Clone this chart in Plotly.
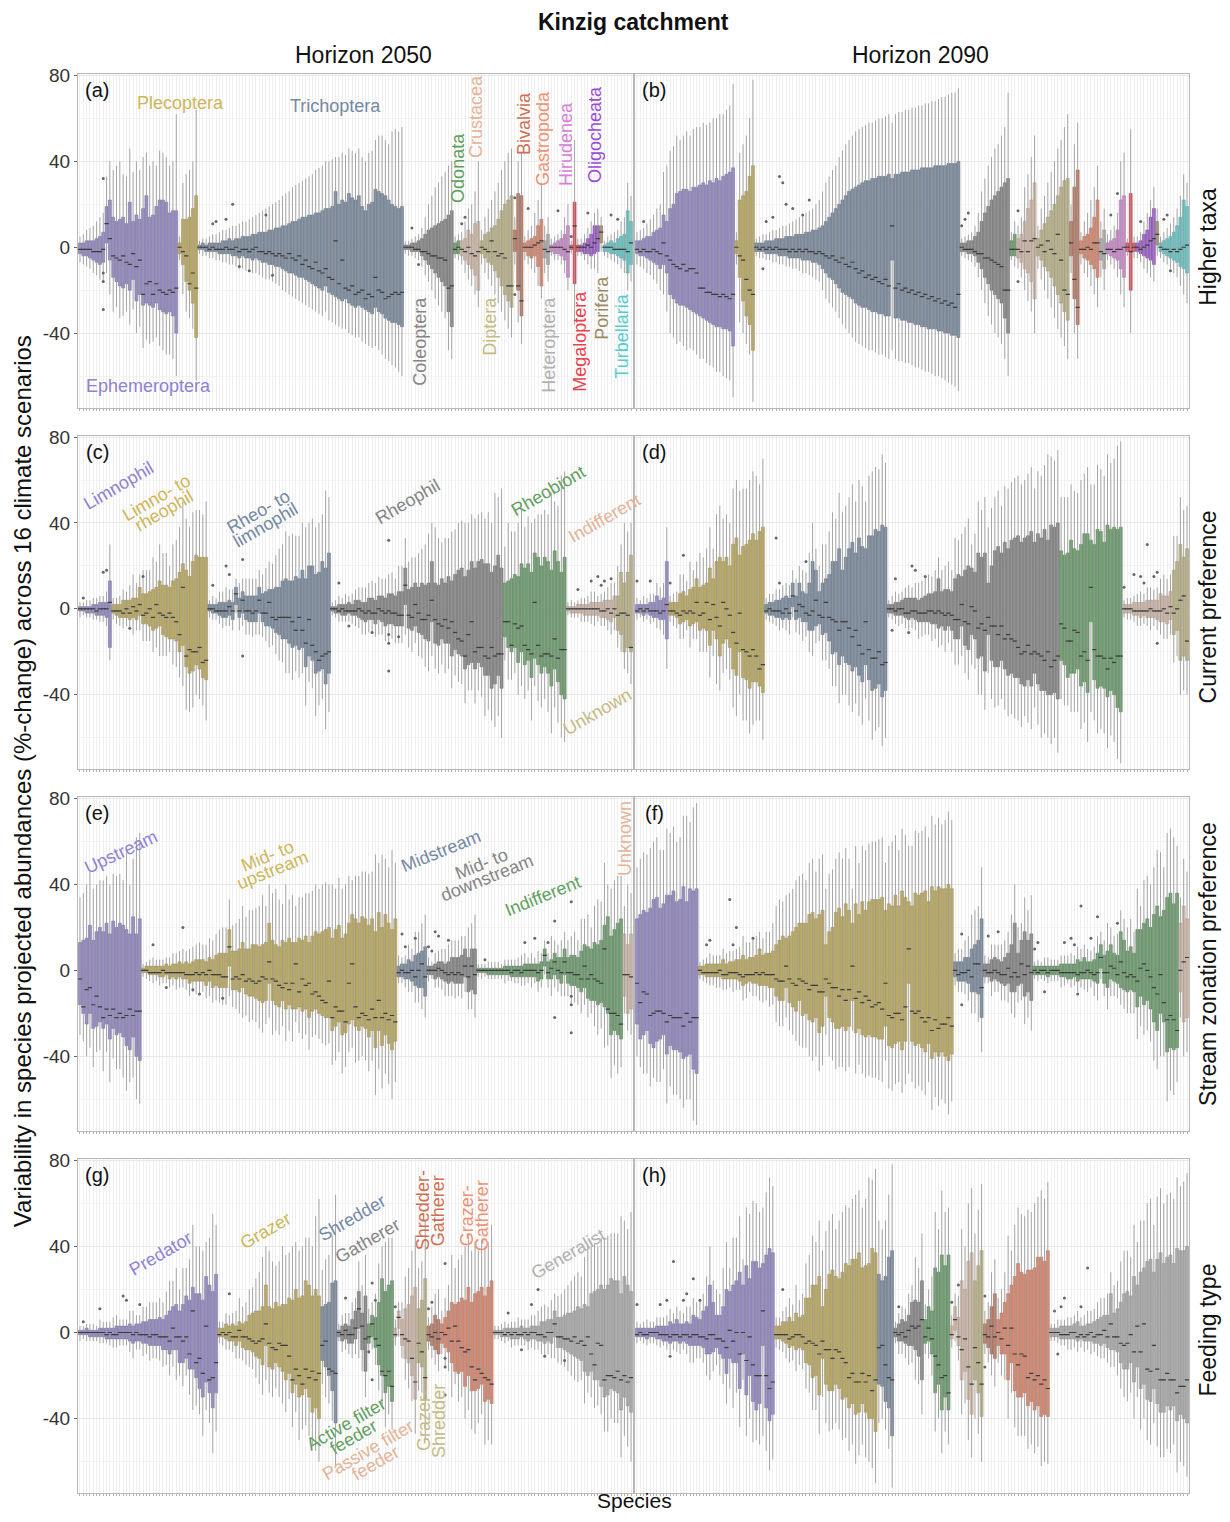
import math
import plotly.graph_objects as go

# reference canvas 1230x1522; the page body adds an 8 px margin, so the figure is 16 px smaller
REF_W, REF_H = 1230, 1522
OFF = 8
FW, FH = REF_W - 2 * OFF, REF_H - 2 * OFF

# ---------------- categories ----------------
TAXA = ["Ephemeroptera", "Plecoptera", "Trichoptera", "Coleoptera", "Odonata", "Crustacea",
        "Diptera", "Bivalvia", "Gastropoda", "Heteroptera", "Hirudenea", "Megaloptera",
        "Oligocheata", "Porifera", "Turbellaria"]
CURRENT_PREF = ["Limnophil", "Limno- to rheophil", "Rheo- to limnophil", "Rheophil",
                "Rheobiont", "Indifferent", "Unknown"]
ZONATION_PREF = ["Upstream", "Mid- to upstream", "Midstream", "Mid- to downstream",
                 "Indifferent", "Unknown"]
FEEDING_TYPE = ["Predator", "Grazer", "Shredder", "Gatherer", "Active filter feeder",
                "Passive filter feeder", "Grazer-Shredder", "Shredder-Gatherer",
                "Grazer-Gatherer", "Generalist"]

# ---------------- species data ----------------
# each species: (lower whisker, Q1, median, Q3, upper whisker) of %-change across 16 scenarios
# traits: 3 letters = current preference, stream zonation, feeding type (a = first category ...)
EPHEMEROPTERA_2050 = [(-7,-3,-1,2,5),(-8,-4,-1,2,6),(-9,-4,-1,3,8),(-10,-5,-1,3,9),(-12,-6,-2,3,10),
    (-13,-7,-2,4,12),(-15,-8,-2,5,14),(-16,-7,-1,7,16),(-12,2,11,19,33),(-22,-6,4,22,40),
    (-30,-14,-4,14,36),(-28,-16,-5,12,38),(-33,-18,-6,13,40),(-32,-19,-4,14,34),(-30,-17,-7,11,33),
    (-36,-20,-8,21,46),(-29,-15,-3,12,35),(-40,-25,-9,15,40),(-37,-22,-6,13,36),(-47,-27,-22,18,42),
    (-43,-26,-17,24,44),(-45,-27,-16,14,38),(-44,-28,-22,15,40),(-42,-26,-17,19,38),(-46,-29,-20,22,45),
    (-48,-30,-21,22,44),(-50,-31,-22,21,42),(-50,-30,-20,16,38),(-52,-32,-21,17,40),(-60,-40,-19,17,62)]
EPHEMEROPTERA_2090 = [(-8,-3,-1,3,7),(-9,-4,-2,3,8),(-10,-4,-1,4,9),(-12,-5,-2,5,11),(-13,-6,-2,5,13),
    (-15,-7,-1,7,15),(-17,-8,-2,8,18),(-20,-10,-3,9,20),(-22,-8,2,15,35),(-30,-12,-4,12,38),
    (-40,-22,-6,18,45),(-42,-24,-8,20,47),(-45,-26,-9,25,52),(-44,-27,-10,26,50),(-46,-27,-8,27,52),
    (-48,-28,-11,27,54),(-47,-29,-10,26,52),(-48,-30,-10,28,55),(-50,-31,-12,28,56),(-52,-32,-19,29,56),
    (-52,-33,-19,30,58),(-54,-34,-21,29,57),(-55,-35,-21,31,58),(-56,-36,-22,30,60),(-58,-37,-22,32,60),
    (-58,-37,-23,31,62),(-60,-38,-22,33,62),(-61,-38,-23,34,64),(-62,-39,-24,35,66),(-70,-46,-22,37,76)]
EPHEMEROPTERA_TRAITS = ["bbj","bbj","cbd","ced","dbb","dbb","dbb","dei","dbd","dbb",
    "cbi","dbb","ebb","cbi","dbb","eai","dbb","eai","dbb","bai",
    "ebb","cai","dbb","ebi","baj","eeb","dai","ceb","eai","eab"]

PLECOPTERA_2050 = [(-6,-3,0,2,5),(-22,-8,-2,13,30),(-30,-16,-4,13,34),(-33,-20,-17,14,36),
    (-38,-26,-12,18,40),(-62,-42,-19,24,64)]
PLECOPTERA_2090 = [(-8,-3,0,3,7),(-35,-14,-4,22,44),(-40,-25,-6,24,48),(-45,-32,-15,26,52),
    (-50,-36,-20,33,60),(-72,-48,-22,38,78)]
PLECOPTERA_TRAITS = ["dbj","bba","cac","eac","daa","eac"]

TRICHOPTERA_2050 = [(-3,-1,0,1,3),(-4,-1,0,2,4),(-4,-2,0,1,4),(-5,-2,-1,2,5),(-5,-2,0,2,6),
    (-6,-2,-1,2,6),(-6,-3,-1,2,7),(-7,-3,-1,3,8),(-7,-3,0,3,8),(-8,-3,-1,4,9),
    (-8,-4,-1,3,10),(-9,-4,0,4,10),(-10,-5,-2,4,11),(-10,-4,-1,5,12),(-11,-5,-1,5,12),
    (-11,-5,-2,5,13),(-12,-6,-1,6,14),(-12,-5,0,6,15),(-13,-6,-2,7,16),(-14,-7,-2,7,17),
    (-15,-7,-3,7,18),(-15,-8,-2,8,19),(-16,-8,-3,8,20),(-17,-9,-4,9,21),(-18,-9,-3,9,22),
    (-20,-10,-4,10,24),(-21,-11,-5,10,25),(-22,-12,-3,11,26),(-23,-12,-5,12,28),(-24,-13,-6,12,29),
    (-25,-14,-4,13,30),(-26,-14,-8,14,31),(-27,-15,-6,14,32),(-28,-16,-9,15,33),(-29,-17,-10,15,34),
    (-30,-18,-7,16,36),(-31,-19,-11,16,37),(-32,-20,-12,17,38),(-30,-18,-10,18,40),(-34,-21,-14,18,40),
    (-35,-22,-15,19,41),(-36,-23,3,26,42),(-37,-24,-17,20,42),(-38,-25,-6,22,44),(-38,-24,-19,21,43),
    (-40,-26,-20,25,46),(-41,-27,-18,23,45),(-42,-28,-22,22,44),(-42,-27,-21,24,46),(-44,-28,-20,19,42),
    (-45,-29,-24,17,40),(-46,-30,-22,20,44),(-47,-31,-23,21,45),(-46,-28,-14,27,50),(-48,-30,-20,26,52),
    (-50,-31,-21,25,52),(-52,-33,-24,24,50),(-53,-34,-23,22,48),(-55,-35,-22,20,54),(-56,-35,-21,19,55),
    (-58,-36,-22,18,54),(-60,-37,-21,19,56)]
TRICHOPTERA_2090 = [(-4,-2,0,2,4),(-5,-2,-1,2,5),(-5,-2,0,2,6),(-6,-3,-1,3,6),(-6,-3,0,3,7),
    (-7,-3,-1,3,8),(-7,-3,0,4,8),(-8,-4,-1,4,9),(-8,-4,-1,4,10),(-9,-4,-1,5,10),
    (-9,-5,-2,5,11),(-10,-5,-1,5,12),(-10,-5,-2,6,13),(-11,-5,-1,6,14),(-12,-6,-2,6,15),
    (-12,-6,-1,7,16),(-13,-6,-2,7,17),(-14,-7,-2,8,18),(-15,-7,-3,8,20),(-16,-8,-2,9,22),
    (-20,-10,-3,10,26),(-24,-12,-4,12,30),(-26,-14,-5,14,33),(-28,-15,-4,16,36),(-30,-17,-6,18,38),
    (-33,-19,-7,20,42),(-36,-21,-5,22,45),(-38,-22,-8,24,48),(-40,-23,-9,26,50),(-42,-24,-7,27,52),
    (-44,-26,-10,28,54),(-45,-27,-12,29,55),(-46,-28,-11,30,56),(-47,-28,-14,31,57),(-48,-29,-13,31,58),
    (-48,-30,-15,32,58),(-49,-30,-14,32,59),(-50,-31,-16,33,60),(-50,-31,-17,33,60),(-51,-32,-15,33,61),
    (-52,-32,-18,34,62),(-48,-6,10,32,58),(-52,-33,-19,34,62),(-53,-33,-17,34,63),(-53,-34,-20,35,63),
    (-54,-34,-19,35,64),(-54,-35,-21,35,64),(-55,-35,-20,36,65),(-56,-36,-22,36,65),(-56,-36,-21,36,66),
    (-57,-37,-23,37,66),(-58,-37,-22,37,67),(-58,-38,-24,37,67),(-59,-38,-23,37,68),(-60,-38,-25,38,68),
    (-60,-39,-24,38,69),(-61,-39,-26,38,70),(-62,-40,-25,38,70),(-63,-40,-27,39,71),(-64,-41,-26,39,72),
    (-65,-41,-28,39,72),(-67,-42,-22,40,74)]
TRICHOPTERA_TRAITS = ["dbj","cba","dej","bbj","cda","dbf","dcj","cba","fej","dbb",
    "cbj","dda","bbe","ccj","dba","dbj","cef","dbj","cda","dbj",
    "bce","cba","dbj","cbb","dbj","dba","cbb","bcf","dbj","ebc",
    "cba","dbb","bee","dbg","cba","ebi","dbb","bbf","cbj","dba",
    "dbj","eba","cab","dbj","ebi","bbj","dac","cba","ebj","dee",
    "cbb","eaj","dbf","eba","cbj","dag","bbi","ebj","dbb","caa",
    "ebj","dbj"]

COLEOPTERA_2050 = [(-3,-1,0,1,3),(-4,-1,0,1,3),(-4,-2,0,2,4),(-5,-2,-1,2,5),(-6,-2,-1,3,6),
    (-9,-4,-2,4,9),(-13,-6,-2,6,14),(-16,-8,-3,8,20),(-20,-10,-4,9,24),(-24,-12,-4,10,28),
    (-27,-14,-5,11,30),(-30,-16,-5,12,33),(-33,-18,-6,13,35),(-48,-30,-19,15,38),(-52,-37,-18,17,40)]
COLEOPTERA_2090 = [(-4,-2,0,2,4),(-5,-2,-1,2,5),(-6,-3,-1,3,6),(-7,-3,-1,3,7),(-9,-4,-2,5,10),
    (-14,-7,-3,7,16),(-20,-10,-3,12,26),(-26,-14,-5,16,32),(-32,-17,-5,19,38),(-36,-20,-6,22,42),
    (-40,-22,-7,24,46),(-42,-24,-8,26,48),(-45,-26,-9,28,52),(-52,-33,-20,30,56),(-60,-40,-20,32,72)]
COLEOPTERA_TRAITS = ["fej","aea","fdj","cbb","dbj","bbb","cda","dbb","bej","cbb",
    "dbg","deb","cbj","bba","dab"]

ODONATA_2050 = [(-5,-3,-1,2,5),(-6,-3,0,3,6)]
ODONATA_2090 = [(-6,-4,-1,3,7),(-9,-4,-1,6,12)]
ODONATA_TRAITS = ["aea","aea"]

CRUSTACEA_2050 = [(-8,-4,-1,3,7),(-12,-6,-2,4,12),(-15,-8,0,8,18),(-18,-10,-3,6,20),
    (-22,-13,-4,11,26),(-28,-20,-2,12,40)]
CRUSTACEA_2090 = [(-10,-5,-1,4,10),(-14,-7,-2,6,14),(-20,-10,3,12,28),(-25,-12,-2,18,34),
    (-30,-16,3,22,42),(-40,-24,4,30,52)]
CRUSTACEA_TRAITS = ["fch","fdh","bch","gdh","bej","gfj"]

DIPTERA_2050 = [(-8,-3,0,3,8),(-12,-5,-1,6,14),(-15,-7,-2,7,18),(-18,-8,3,9,22),(-22,-11,-2,10,26),
    (-26,-14,-4,13,30),(-30,-18,-3,17,36),(-34,-22,-5,20,40),(-38,-25,-18,22,44),(-42,-28,-18,24,46)]
DIPTERA_2090 = [(-10,-4,0,4,10),(-15,-6,1,8,18),(-20,-9,-2,11,24),(-24,-11,3,14,30),(-28,-14,-1,17,35),
    (-33,-18,-3,20,40),(-38,-22,6,24,46),(-42,-26,-6,28,50),(-46,-30,-20,31,56),(-52,-34,-22,32,62)]
DIPTERA_TRAITS = ["fej","cdd","bej","ccd","ddj","bef","gfd","cbj","dae","bbj"]

BIVALVIA_2050 = [(-8,-2,4,8,14),(-35,-20,-18,25,40),(-45,-32,-25,24,44)]
BIVALVIA_2090 = [(-12,-4,2,12,20),(-40,-24,-15,28,48),(-52,-36,-28,36,58)]
BIVALVIA_TRAITS = ["cee","gee","bee"]

GASTROPODA_2050 = [(-6,-2,0,2,5),(-8,-4,0,3,8),(-10,-5,0,4,10),(-12,-4,1,5,16),(-18,-9,2,10,22),
    (-24,-18,3,13,30)]
GASTROPODA_2090 = [(-8,-3,-1,3,7),(-12,-5,-1,5,12),(-14,-6,0,6,16),(-18,-8,-1,9,22),(-22,-10,2,14,28),
    (-28,-14,2,22,38)]
GASTROPODA_TRAITS = ["feb","adb","fci","beb","bdi","abi"]

HETEROPTERA_2050 = [(-12,-5,-1,3,10),(-16,-8,-2,6,14)]
HETEROPTERA_2090 = [(-14,-6,-2,4,12),(-20,-10,-3,8,18)]
HETEROPTERA_TRAITS = ["dda","dea"]

HIRUDENEA_2050 = [(-4,-2,0,1,4),(-6,-3,0,2,5),(-6,-3,0,3,6),(-8,-4,0,4,8),(-12,-6,-1,6,14),
    (-20,-14,-2,10,20)]
HIRUDENEA_2090 = [(-6,-3,-1,2,6),(-8,-4,-1,3,8),(-10,-5,-2,4,10),(-14,-6,-1,8,16),(-22,-10,-1,22,40),
    (-28,-14,0,24,44)]
HIRUDENEA_TRAITS = ["aea","fea","aca","bea","cda","bea"]

MEGALOPTERA_2050 = [(-3,-1,0,1,3),(-36,-17,10,21,50),(-4,-2,0,1,4)]
MEGALOPTERA_2090 = [(-4,-2,0,2,4),(-40,-20,-2,25,55),(-5,-2,0,2,5)]
MEGALOPTERA_TRAITS = ["aea","bea","fea"]

OLIGOCHEATA_2050 = [(-4,-2,0,1,4),(-6,-3,0,2,6),(-8,-3,1,4,9),(-10,-4,0,6,12),(-10,-3,2,10,16),
    (-12,-2,4,10,18)]
OLIGOCHEATA_2090 = [(-5,-2,0,2,5),(-7,-3,-1,3,7),(-10,-4,0,6,12),(-12,-5,1,8,16),(-14,-6,3,14,22),
    (-16,-8,4,18,28)]
OLIGOCHEATA_TRAITS = ["aed","fej","cdd","fej","bdd","cej"]

PORIFERA_2050 = [(-2,2,7,10,14)]
PORIFERA_2090 = [(-4,1,6,12,18)]
PORIFERA_TRAITS = ["cef"]

TURBELLARIA_2050 = [(-4,-2,0,1,3),(-5,-2,0,2,5),(-6,-3,0,3,6),(-7,-3,-1,2,7),(-8,-4,-1,4,8),
    (-10,-5,-1,5,12),(-12,-6,-1,6,14),(-20,-12,-2,17,30),(-16,-8,2,12,24)]
TURBELLARIA_2090 = [(-5,-2,0,2,5),(-7,-3,-1,3,7),(-8,-4,-1,4,9),(-10,-5,-2,5,11),(-12,-6,-1,7,14),
    (-14,-7,-2,10,18),(-18,-9,-1,14,24),(-22,-10,0,22,34),(-26,-12,1,19,30)]
TURBELLARIA_TRAITS = ["fea","aea","fea","dea","fea","bba","dea","gfa","dea"]

# outlying scenario values: (taxon index, species index within taxon, value)
OUTLIERS_2050 = [(0,7,32),(0,7,-12),(0,7,-16),(0,7,-29),(2,4,11),(2,5,12),(2,8,13),(2,12,-9),
    (2,15,-11),(2,20,15),(2,22,-13),(2,10,20),(3,2,9),(3,4,-8),(5,0,11),(5,1,14),(7,0,23),
    (7,0,-22),(8,1,18),(10,2,17),(11,0,5),(12,2,16),(14,2,15),(14,4,13)]
OUTLIERS_2090 = [(0,2,12),(2,3,12),(2,5,14),(2,7,33),(2,8,30),(2,9,20),(2,11,18),(2,14,15),
    (2,16,22),(2,2,-10),(3,0,10),(3,1,13),(3,2,16),(5,0,17),(5,0,-16),(10,1,15),(10,3,25),
    (12,1,12),(14,1,13),(14,2,15),(14,3,-11)]

TAXON_TABLES = [
    (EPHEMEROPTERA_2050, EPHEMEROPTERA_2090, EPHEMEROPTERA_TRAITS),
    (PLECOPTERA_2050, PLECOPTERA_2090, PLECOPTERA_TRAITS),
    (TRICHOPTERA_2050, TRICHOPTERA_2090, TRICHOPTERA_TRAITS),
    (COLEOPTERA_2050, COLEOPTERA_2090, COLEOPTERA_TRAITS),
    (ODONATA_2050, ODONATA_2090, ODONATA_TRAITS),
    (CRUSTACEA_2050, CRUSTACEA_2090, CRUSTACEA_TRAITS),
    (DIPTERA_2050, DIPTERA_2090, DIPTERA_TRAITS),
    (BIVALVIA_2050, BIVALVIA_2090, BIVALVIA_TRAITS),
    (GASTROPODA_2050, GASTROPODA_2090, GASTROPODA_TRAITS),
    (HETEROPTERA_2050, HETEROPTERA_2090, HETEROPTERA_TRAITS),
    (HIRUDENEA_2050, HIRUDENEA_2090, HIRUDENEA_TRAITS),
    (MEGALOPTERA_2050, MEGALOPTERA_2090, MEGALOPTERA_TRAITS),
    (OLIGOCHEATA_2050, OLIGOCHEATA_2090, OLIGOCHEATA_TRAITS),
    (PORIFERA_2050, PORIFERA_2090, PORIFERA_TRAITS),
    (TURBELLARIA_2050, TURBELLARIA_2090, TURBELLARIA_TRAITS),
]

# ---------------- styles ----------------
PALETTE = ["#9b8fd2", "#cbb763", "#8092a8", "#8c8c8c", "#6ea66f", "#e2c8b6", "#cbc291",
           "#c5806a", "#ec8e72", "#b9b9b9", "#dd92dd", "#e9535f", "#a55bd8", "#aa9c74", "#6dd5d5"]
TEXT_COLORS = ["#8f82d2", "#cdb65a", "#7488a3", "#858585", "#5fa060", "#e3b497", "#c4bb85",
               "#cf6f52", "#ee9275", "#b0b0b0", "#d880d8", "#e8404e", "#9a4bd6", "#9a8b63", "#55cccc"]
FONT = "Liberation Sans, Arial, sans-serif"


def darker(hexcol, f=0.78):
    h = hexcol.lstrip("#")
    r, g, b = (int(h[i:i + 2], 16) for i in (0, 2, 4))
    return "rgb(%d,%d,%d)" % (r * f, g * f, b * f)


def fx(px):
    return (px - OFF) / FW


def fy(py):
    # page-position correction (renderer places the top a few px lower than the bottom)
    corr = 7.0 * (1 - py / 1450.0)
    return 1 - (py - OFF - corr) / FH


# ---------------- assemble species ----------------
species = []
lookup = {}
for t, (d50, d90, traits) in enumerate(TAXON_TABLES):
    for i in range(len(d50)):
        code = traits[i]
        s = dict(taxon=t, cur=ord(code[0]) - 97, zon=ord(code[1]) - 97,
                 feed=ord(code[2]) - 97, s50=d50[i], s90=d90[i], o50=[], o90=[])
        species.append(s)
        lookup[(t, i)] = s
for t, i, v in OUTLIERS_2050:
    lookup[(t, i)]["o50"].append(v)
for t, i, v in OUTLIERS_2090:
    lookup[(t, i)]["o90"].append(v)
N = len(species)

ROWS = [("taxon", TAXA), ("cur", CURRENT_PREF), ("zon", ZONATION_PREF), ("feed", FEEDING_TYPE)]
COL_X = [(78, 633), (635, 1189)]
ROW_Y = [(72, 406), (434, 768), (796, 1130), (1158, 1493)]
YR = [-74.7, 80.7]

fig = go.Figure()
layout_axes = {}

for r, (key, cats) in enumerate(ROWS):
    placed = []
    pos = 1
    for g in range(len(cats)):
        members = [s for s in species if s[key] == g]
        if r > 0:
            members = sorted(members, key=lambda s: s["s50"][3] - s["s50"][1])
        xs = list(range(pos, pos + len(members)))
        pos += len(members)
        placed.append((g, xs, members))
    for c, hz in enumerate(["s50", "s90"]):
        oz = "o50" if c == 0 else "o90"
        p = r * 2 + c + 1
        xa = "x" if p == 1 else "x%d" % p
        ya = "y" if p == 1 else "y%d" % p
        wx, wy, ox, oy = [], [], [], []
        for g, xs, members in placed:
            for x, s in zip(xs, members):
                wx += [x, x, None]
                wy += [s[hz][0], s[hz][4], None]
                for v in s[oz]:
                    ox.append(x)
                    oy.append(v)
        fig.add_trace(go.Scatter(x=wx, y=wy, mode="lines", xaxis=xa, yaxis=ya,
                                 line=dict(color="rgba(150,150,150,0.85)", width=1),
                                 hoverinfo="skip", showlegend=False))
        fig.add_trace(go.Scatter(x=ox, y=oy, mode="markers", xaxis=xa, yaxis=ya,
                                 marker=dict(size=3, color="#666666"),
                                 hoverinfo="skip", showlegend=False))
        for g, xs, members in placed:
            if not members:
                continue
            col = PALETTE[g]
            q1 = [s[hz][1] for s in members]
            med = [s[hz][2] for s in members]
            q3 = [s[hz][3] for s in members]
            fig.add_trace(go.Box(x=xs, q1=q1, median=med, q3=q3, lowerfence=q1, upperfence=q3,
                                 width=0.88, fillcolor=col, whiskerwidth=0,
                                 line=dict(color=darker(col), width=0.6),
                                 boxpoints=False, xaxis=xa, yaxis=ya,
                                 hoverinfo="skip", showlegend=False))
            fig.add_trace(go.Scatter(x=xs, y=med, mode="markers", xaxis=xa, yaxis=ya,
                                     marker=dict(symbol="line-ew", size=3,
                                                 line=dict(color="#3c3c3c", width=1.2)),
                                     hoverinfo="skip", showlegend=False))
        x0, x1 = COL_X[c]
        yt, yb = ROW_Y[r]
        xname = "xaxis" if p == 1 else "xaxis%d" % p
        yname = "yaxis" if p == 1 else "yaxis%d" % p
        layout_axes[xname] = dict(domain=[fx(x0), fx(x1)], anchor=ya, range=[0.4, N + 0.6],
                                  tickmode="linear", tick0=1, dtick=1, showticklabels=False,
                                  showgrid=True, gridcolor="#efefef", gridwidth=1,
                                  ticks="outside", ticklen=2, tickcolor="#b0b0b0",
                                  zeroline=False, showline=True, mirror=True,
                                  linecolor="#b8b8b8", linewidth=1)
        layout_axes[yname] = dict(domain=[fy(yb), fy(yt)], anchor=xa, range=YR,
                                  tickvals=[-40, 0, 40, 80], ticktext=["-40", "0", "40", "80"],
                                  showticklabels=(c == 0), showgrid=True, gridcolor="#e8e8e8",
                                  minor=dict(tickvals=[-60, -20, 20, 60], showgrid=True,
                                             gridcolor="#f3f3f3"),
                                  ticks="outside" if c == 0 else "", ticklen=3, tickcolor="#666",
                                  tickfont=dict(size=19, color="#333333", family=FONT),
                                  zeroline=False, showline=True, mirror=True,
                                  linecolor="#b8b8b8", linewidth=1)

# ---------------- text ----------------
ann = []


def add_text(text, px, py, size=16, angle=0, color="#111111", bold=False, spacing=None):
    lines = text.split("<br>")
    n = len(lines)
    step = spacing if spacing else size * 1.0
    th = math.radians(angle)
    dx, dy = -math.sin(th), math.cos(th)   # direction of the next text line on screen
    for k, line in enumerate(lines):
        o = (k - (n - 1) / 2.0) * step
        ann.append(dict(text="<b>%s</b>" % line if bold else line,
                        x=fx(px + o * dx), y=fy(py + o * dy),
                        xref="paper", yref="paper", showarrow=False, textangle=angle,
                        xanchor="center", yanchor="middle",
                        font=dict(size=size, color=color, family=FONT)))


add_text("Kinzig catchment", 633, 20, 23, bold=True)
add_text("Horizon 2050", 363, 53, 23)
add_text("Horizon 2090", 920, 53, 23)
add_text("Variability in species projected abundances (%-change) across 16 climate scenarios",
         22, 780, 24, angle=-90)
add_text("Species", 634, 1500, 21)
for lab, py in [("Higher taxa", 245), ("Current preference", 606),
                ("Stream zonation preference", 963), ("Feeding type", 1330)]:
    add_text(lab, 1208, py, 23, angle=-90)

for i, (r, c) in enumerate([(0, 0), (0, 1), (1, 0), (1, 1), (2, 0), (2, 1), (3, 0), (3, 1)]):
    add_text("(%s)" % "abcdefgh"[i], COL_X[c][0] + 19, ROW_Y[r][0] + 16, 20)

GROUP_LABELS = [
    ("Plecoptera", 180, 101, 0, 1), ("Trichoptera", 335, 104, 0, 2),
    ("Ephemeroptera", 148, 384, 0, 0), ("Coleoptera", 420, 340, -90, 3),
    ("Odonata", 458, 166, -90, 4), ("Crustacea", 476, 115, -90, 5),
    ("Diptera", 490, 325, -90, 6), ("Bivalvia", 524, 122, -90, 7),
    ("Gastropoda", 543, 137, -90, 8), ("Heteroptera", 549, 343, -90, 9),
    ("Hirudenea", 566, 142, -90, 10), ("Megaloptera", 580, 340, -90, 11),
    ("Oligocheata", 595, 133, -90, 12), ("Porifera", 602, 306, -90, 13),
    ("Turbellaria", 622, 335, -90, 14),
    ("Limnophil", 118, 484, -30, 0), ("Limno- to<br>rheophil", 160, 503, -30, 1),
    ("Rheo- to<br>limnophil", 262, 517, -30, 2), ("Rheophil", 407, 500, -30, 3),
    ("Rheobiont", 548, 489, -30, 4), ("Indifferent", 605, 517, -30, 5),
    ("Unknown", 597, 711, -30, 6),
    ("Upstream", 121, 851, -25, 0), ("Mid- to<br>upstream", 270, 862, -22, 1),
    ("Midstream", 441, 850, -22, 2), ("Mid- to<br>downstream", 484, 870, -22, 3),
    ("Indifferent", 543, 895, -22, 4), ("Unknown", 625, 838, -90, 5),
    ("Predator", 160, 1253, -30, 0), ("Grazer", 265, 1230, -30, 1),
    ("Shredder", 352, 1217, -30, 2), ("Gatherer", 367, 1240, -30, 3),
    ("Shredder-<br>Gatherer", 430, 1210, -90, 7), ("Grazer-<br>Gatherer", 474, 1215, -90, 8),
    ("Generalist", 568, 1253, -30, 9), ("Active filter<br>feeder", 350, 1430, -30, 4),
    ("Passive filter<br>feeder", 372, 1456, -30, 5), ("Grazer-<br>Shredder", 432, 1420, -90, 6),
]
for text, px, py, ang, ci in GROUP_LABELS:
    add_text(text, px, py, 18, angle=ang, color=TEXT_COLORS[ci], spacing=15)

fig.update_layout(width=FW, height=FH, margin=dict(l=0, r=0, t=0, b=0),
                  paper_bgcolor="white", plot_bgcolor="white", boxmode="overlay",
                  annotations=ann, showlegend=False, **layout_axes)

fig.write_html("out.html")
